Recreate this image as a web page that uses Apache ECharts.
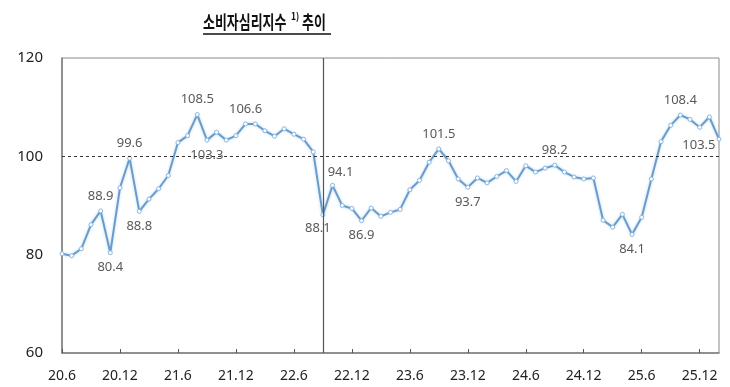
<!DOCTYPE html>
<html>
<head>
<meta charset="utf-8">
<script src="https://cdn.jsdelivr.net/npm/echarts@6/dist/echarts.min.js"></script>
<style>html,body{margin:0;padding:0;background:#fff}#c{width:730px;height:387px}</style>
</head>
<body>
<div id="c"></div>
<script>
// monthly categories 20.6 .. 26.2
const categories = [
  '20.6','20.7','20.8','20.9','20.10','20.11','20.12',
  '21.1','21.2','21.3','21.4','21.5','21.6','21.7','21.8','21.9','21.10','21.11','21.12',
  '22.1','22.2','22.3','22.4','22.5','22.6','22.7','22.8','22.9','22.10','22.11','22.12',
  '23.1','23.2','23.3','23.4','23.5','23.6','23.7','23.8','23.9','23.10','23.11','23.12',
  '24.1','24.2','24.3','24.4','24.5','24.6','24.7','24.8','24.9','24.10','24.11','24.12',
  '25.1','25.2','25.3','25.4','25.5','25.6','25.7','25.8','25.9','25.10','25.11','25.12',
  '26.1','26.2'
];
const ccsi = [
  80.2, 79.8, 81.2, 86.1, 88.9, 80.4, 93.6,
  99.6, 88.8, 91.3, 93.4, 96.1, 102.8, 104.2, 108.5, 103.3, 104.9, 103.3, 104.2,
  106.6, 106.6, 105.2, 104.1, 105.6, 104.5, 103.5, 100.9, 88.1, 94.1, 90.0, 89.4,
  86.9, 89.5, 87.8, 88.6, 89.2, 93.2, 95.1, 98.8, 101.5, 99.1, 95.4, 93.7,
  95.6, 94.6, 95.9, 97.1, 94.9, 98.1, 96.8, 97.6, 98.2, 96.8, 95.8, 95.4,
  95.6, 87.0, 85.6, 88.2, 84.1, 87.6, 95.4, 103.0, 106.3, 108.4, 107.5, 105.9,
  108.0, 103.5
];
const labelAbove = ['20.10','21.1','21.8','22.1','23.9','24.9','25.10'];
const labelAboveRight = ['22.10'];
const labelBelow = ['20.11','21.2','21.9','23.1','23.12','25.5'];
const labelBelowLeft = ['22.9'];
const labelLast = ['26.2'];
const referenceLevel = 100;
const breakMonth = '22.9';
const yTicks = [60, 80, 100, 120];
const titleMain = '소비자심리지수';
const titleNote = '1)';
const titleTail = '추이';

const data = ccsi.map((v, i) => {
  const c = categories[i];
  const item = { value: v };
  if (labelAbove.includes(c)) item.label = { show: true, position: 'top', distance: 6 };
  else if (labelAboveRight.includes(c)) item.label = { show: true, position: 'top', distance: 4, offset: [8, 0] };
  else if (labelBelow.includes(c)) item.label = { show: true, position: 'bottom', distance: 6 };
  else if (labelBelowLeft.includes(c)) item.label = { show: true, position: 'bottom', distance: 4, offset: [-5, 0] };
  else if (labelLast.includes(c)) item.label = { show: true, position: 'left', distance: 1, offset: [0, 6] };
  return item;
});

const tFont = 'Noto Sans CJK KR';
const chart = echarts.init(document.getElementById('c'), null, { renderer: 'canvas' });
chart.setOption({
  animation: false,
  backgroundColor: '#fff',
  graphic: [
    { type: 'text', x: 203, y: 13, scaleX: 0.7, silent: true,
      style: { text: titleMain, font: 'bold 18.5px "' + tFont + '"', fill: '#111', textVerticalAlign: 'top' } },
    { type: 'text', x: 291, y: 11, scaleX: 0.85, silent: true,
      style: { text: titleNote, font: 'bold 10px "' + tFont + '"', fill: '#111', textVerticalAlign: 'top' } },
    { type: 'text', x: 302, y: 13, scaleX: 0.7, silent: true,
      style: { text: titleTail, font: 'bold 18.5px "' + tFont + '"', fill: '#111', textVerticalAlign: 'top' } },
    { type: 'line', shape: { x1: 203, y1: 34, x2: 331, y2: 34 },
      style: { stroke: '#111', lineWidth: 1.3 }, silent: true }
  ],
  grid: { left: 62, right: 11, top: 58, bottom: 34, show: true, borderColor: '#8a8a8a', borderWidth: 1 },
  xAxis: {
    type: 'category', data: categories, boundaryGap: false,
    axisLine: { lineStyle: { color: '#7f7f7f', width: 1.5 } },
    axisTick: { show: true, inside: true, length: 4, interval: 5, lineStyle: { color: '#555' } },
    axisLabel: { interval: 5, margin: 16, fontSize: 14, color: '#222', fontFamily: 'Noto Sans' },
    splitLine: { show: false }
  },
  yAxis: {
    type: 'value', min: yTicks[0], max: yTicks[yTicks.length - 1], interval: 20,
    axisLine: { show: true, lineStyle: { color: '#7f7f7f', width: 1.5 } },
    axisTick: { show: false },
    axisLabel: { fontSize: 15, color: '#222', margin: 19, fontFamily: 'Noto Sans' },
    splitLine: { show: false }
  },
  series: [{
    type: 'line', data: data,
    symbol: 'circle', symbolSize: 4, showAllSymbol: true,
    lineStyle: { color: '#6a9ccb', width: 2, shadowColor: 'rgba(140,190,230,0.6)', shadowBlur: 3 },
    itemStyle: { color: '#ffffff', borderColor: '#8cb6dc', borderWidth: 1 },
    label: { show: false, fontSize: 13, color: '#595959', fontFamily: 'Noto Sans' },
    markLine: {
      silent: true, symbol: 'none', label: { show: false },
      data: [
        { yAxis: referenceLevel, lineStyle: { type: [3, 3], color: '#333', width: 1.2 } },
        { xAxis: breakMonth, lineStyle: { type: 'solid', color: '#555', width: 1.2 } }
      ]
    },
    z: 3
  }]
});
</script>
</body>
</html>
